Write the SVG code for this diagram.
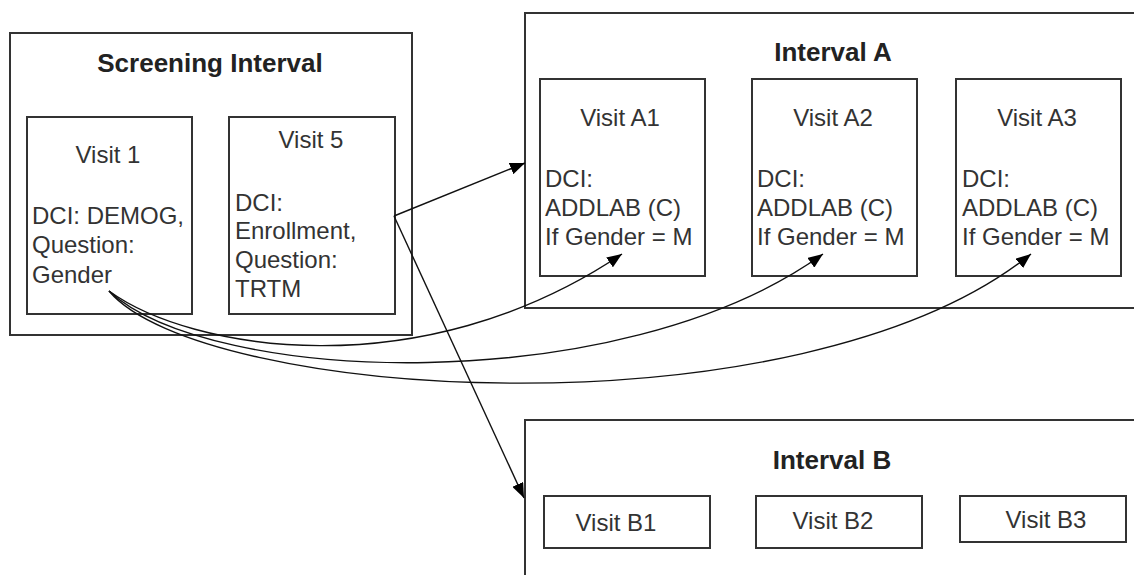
<svg xmlns="http://www.w3.org/2000/svg" width="1134" height="575" viewBox="0 0 1134 575">
<defs>
<marker id="arr" markerUnits="userSpaceOnUse" markerWidth="16" markerHeight="12" refX="15" refY="6" orient="auto">
<path d="M0,0 L15,6 L0,12 z" fill="#000"/>
</marker>
<style>
.box{fill:#fff;stroke:#333;stroke-width:2}
.title{font-family:"Liberation Sans",Arial,sans-serif;font-size:26px;font-weight:bold;fill:#222;text-anchor:middle}
.vt{font-family:"Liberation Sans",Arial,sans-serif;font-size:24px;fill:#333;text-anchor:middle}
.bt{font-family:"Liberation Sans",Arial,sans-serif;font-size:24px;fill:#333}
.con{fill:none;stroke:#111;stroke-width:1.4}
</style>
</defs>
<rect width="1134" height="575" fill="#fff"/>

<g id="screening">
<rect class="box" x="10" y="33" width="402" height="302"/>
<text class="title" x="210" y="72">Screening Interval</text>
</g>
<g id="visit1">
<rect class="box" x="27" y="117" width="165" height="197"/>
<text class="vt" x="108" y="163">Visit 1</text>
<text class="bt" x="32" y="224">DCI: DEMOG,</text>
<text class="bt" x="32" y="253">Question:</text>
<text class="bt" x="32" y="283">Gender</text>
</g>
<g id="visit5">
<rect class="box" x="229" y="117" width="166" height="197"/>
<text class="vt" x="311" y="148">Visit 5</text>
<text class="bt" x="235" y="211">DCI:</text>
<text class="bt" x="235" y="239">Enrollment,</text>
<text class="bt" x="235" y="268">Question:</text>
<text class="bt" x="235" y="297">TRTM</text>
</g>

<g id="intervalA">
<rect class="box" x="525" y="13" width="620" height="295"/>
<text class="title" x="833" y="61">Interval A</text>
</g>
<g id="visitA1">
<rect class="box" x="540" y="79" width="165" height="197"/>
<text class="vt" x="620" y="126">Visit A1</text>
<text class="bt" x="545" y="187">DCI:</text>
<text class="bt" x="545" y="216">ADDLAB (C)</text>
<text class="bt" x="545" y="245">If Gender = M</text>
</g>
<g id="visitA2">
<rect class="box" x="752" y="79" width="165" height="197"/>
<text class="vt" x="833" y="126">Visit A2</text>
<text class="bt" x="757" y="187">DCI:</text>
<text class="bt" x="757" y="216">ADDLAB (C)</text>
<text class="bt" x="757" y="245">If Gender = M</text>
</g>
<g id="visitA3">
<rect class="box" x="956" y="79" width="165" height="197"/>
<text class="vt" x="1037" y="126">Visit A3</text>
<text class="bt" x="962" y="187">DCI:</text>
<text class="bt" x="962" y="216">ADDLAB (C)</text>
<text class="bt" x="962" y="245">If Gender = M</text>
</g>

<g id="intervalB">
<rect class="box" x="525" y="420" width="620" height="170"/>
<text class="title" x="832" y="469">Interval B</text>
</g>
<g id="visitB1">
<rect class="box" x="544" y="496" width="166" height="52"/>
<text class="vt" x="616" y="531">Visit B1</text>
</g>
<g id="visitB2">
<rect class="box" x="756" y="496" width="166" height="52"/>
<text class="vt" x="833" y="529">Visit B2</text>
</g>
<g id="visitB3">
<rect class="box" x="960" y="496" width="166" height="46"/>
<text class="vt" x="1046" y="528">Visit B3</text>
</g>

<g id="connectors">
<line class="con" x1="394" y1="216" x2="525" y2="163" marker-end="url(#arr)"/>
<line class="con" x1="394" y1="216" x2="524" y2="498" marker-end="url(#arr)"/>
<path class="con" d="M109,291 C190,350 420,390 622,254" marker-end="url(#arr)"/>
<path class="con" d="M109,291 C210,385 620,400 823,254" marker-end="url(#arr)"/>
<path class="con" d="M109,291 C200,400 800,440 1031,254" marker-end="url(#arr)"/>
</g>
</svg>
